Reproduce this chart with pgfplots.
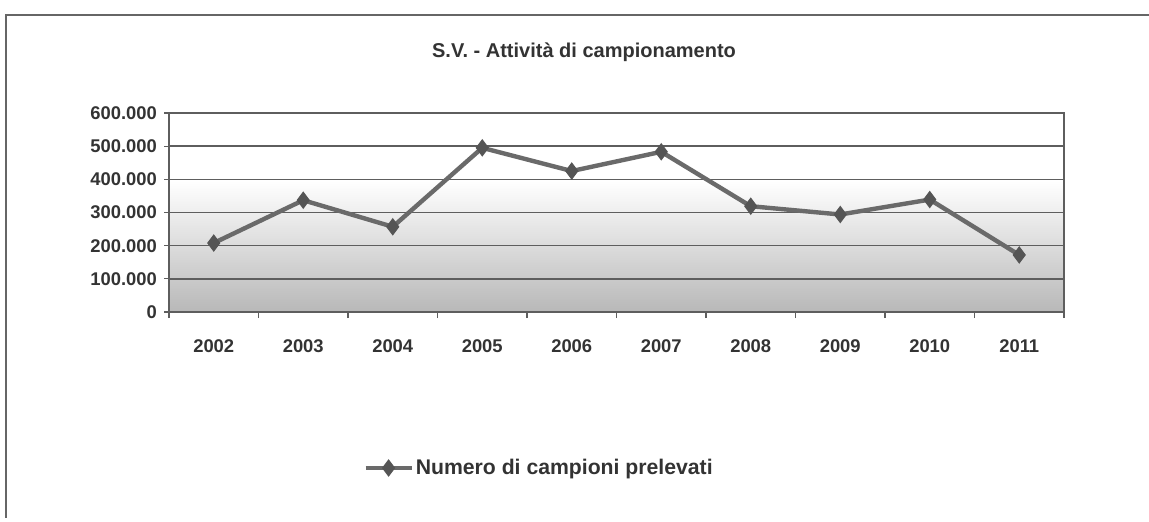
\documentclass[border=0pt]{standalone}
\usepackage{pgfplots}
\pgfplotsset{compat=1.18}
\usepackage{fontspec}
\setmainfont{Liberation Sans}
\definecolor{txt}{HTML}{333333}
\definecolor{ln}{HTML}{6A6A6A}
\definecolor{mk}{HTML}{555555}
\definecolor{gridc}{HTML}{5E5E5E}
\definecolor{bgdark}{HTML}{B8B8B8}
\pgfdeclareverticalshading{plotbg}{100bp}{color(0bp)=(bgdark); color(25bp)=(bgdark); color(58bp)=(white); color(100bp)=(white)}
\begin{document}
\begin{tikzpicture}
\useasboundingbox (-84.5pt,-104.5pt) rectangle (490pt,156pt);
\draw[gray!80!black, line width=1.2pt] (490pt,148.5pt) -- (-81.5pt,148.5pt) -- (-81.5pt,-103pt);
\begin{axis}[
  at={(0,0)}, anchor=south west,
  scale only axis, width=447.5pt, height=99.5pt,
  xmin=-0.5, xmax=9.5, ymin=0, ymax=600000,
  xtick={0,...,9}, xticklabels={2002,2003,2004,2005,2006,2007,2008,2009,2010,2011},
  extra x ticks={-0.5,0.5,1.5,2.5,3.5,4.5,5.5,6.5,7.5,8.5,9.5},
  extra x tick labels={},
  extra x tick style={major tick length=3pt, major x tick style={draw=gridc, line width=0.7pt}},
  ytick={0,100000,...,600000},
  yticklabels={0,100.000,200.000,300.000,400.000,500.000,600.000},
  scaled y ticks=false,
  tick align=outside, tick pos=left,
  major x tick style={draw=none},
  major tick length=2.5pt,
  tick style={gridc, line width=0.6pt},
  ymajorgrids, grid style={gridc, line width=0.7pt},
  axis line style={gridc, line width=0.7pt},
  ticklabel style={font=\bfseries\fontsize{9.2}{10}\selectfont, text=txt},
  /pgf/number format/assume math mode=true,
  xticklabel style={yshift=-8pt},
  axis background/.style={shading=plotbg},
  legend style={at={(0,0)}, anchor=west, xshift=94pt, yshift=-78pt, draw=none, fill=none,
    font=\bfseries\fontsize{10.6}{12}\selectfont, text=txt, nodes={inner xsep=1pt}},
  legend cell align=left,
  legend image code/.code={\draw[mark repeat=2,mark phase=2,#1] plot coordinates {(0pt,0pt)(11.5pt,0pt)(23pt,0pt)};},
]
\addplot[ln, line width=2.2pt, mark=diamond*, mark size=4pt, mark options={fill=mk, draw=mk, line width=0.5pt}]
  coordinates {(0,208000)(1,337000)(2,257000)(3,495000)(4,425000)(5,483000)(6,319000)(7,294000)(8,339000)(9,172000)};
\addlegendentry{Numero di campioni prelevati}
\end{axis}
\node[font=\bfseries\fontsize{10}{12}\selectfont, text=txt] at (207.5pt,130pt) {S.V. - Attività di campionamento};
\end{tikzpicture}
\end{document}
